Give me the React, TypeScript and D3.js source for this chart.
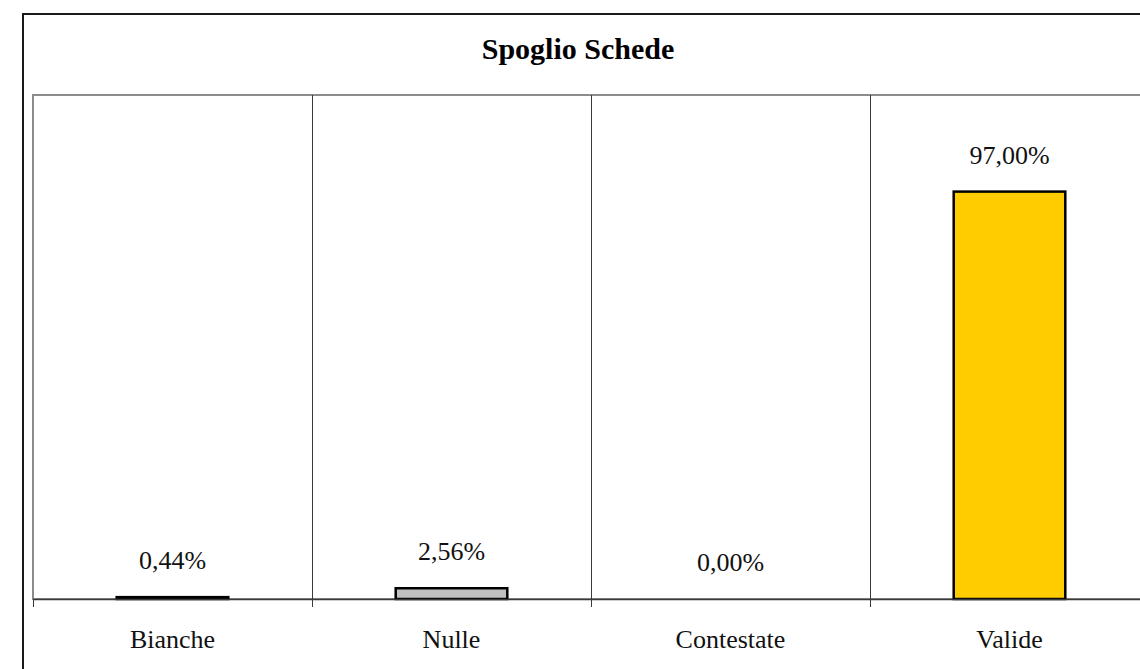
import React, { useEffect, useRef } from "react";
import * as d3 from "d3";

const categories = ["Bianche", "Nulle", "Contestate", "Valide"];
const values = [0.44, 2.56, 0.0, 97.0];
const barColors = ["#000000", "#C0C0C0", "#FFFFFF", "#FFCC00"];
const valueLabels = ["0,44%", "2,56%", "0,00%", "97,00%"];
const yDomain = [0, 120];

const FONT = "'Liberation Serif', 'Times New Roman', serif";

const App = () => {
  const ref = useRef<SVGSVGElement>(null);

  useEffect(() => {
    const width = 1140;
    const height = 669;
    const svg = d3.select(ref.current);
    svg.selectAll("*").remove();

    // plot box
    const left = 33;
    const top = 95;
    const bottom = 599;
    const step = 279;
    const right = left + step * categories.length;

    // outer chart border (runs past the page edges)
    svg
      .append("rect")
      .attr("x", 23)
      .attr("y", 14)
      .attr("width", 1300)
      .attr("height", 800)
      .style("fill", "#fff")
      .style("stroke", "#1a1a1a")
      .style("stroke-width", 2);

    svg
      .append("text")
      .attr("x", 578)
      .attr("y", 59)
      .attr("text-anchor", "middle")
      .style("font-family", FONT)
      .style("font-weight", "bold")
      .style("font-size", "30px")
      .style("fill", "#000")
      .text("Spoglio Schede");

    const x = d3
      .scaleBand<string>()
      .domain(categories)
      .range([left, right])
      .paddingInner(0.6)
      .paddingOuter(0.3);

    const y = d3.scaleLinear().domain(yDomain).range([bottom, top]);

    // plot area border
    svg
      .append("rect")
      .attr("x", left)
      .attr("y", top)
      .attr("width", right - left)
      .attr("height", bottom - top)
      .style("fill", "none")
      .style("stroke", "#8c8c8c")
      .style("stroke-width", 2);

    // vertical gridlines at category boundaries, with ticks below axis
    d3.range(categories.length + 1).forEach((i) => {
      const gx = left + i * step;
      svg
        .append("line")
        .attr("x1", gx + 0.5)
        .attr("x2", gx + 0.5)
        .attr("y1", i === 0 ? bottom : top)
        .attr("y2", bottom + 8)
        .style("stroke", "#3a3a3a")
        .style("stroke-width", 1);
    });

    // bars
    categories.forEach((c, i) => {
      if (values[i] <= 0) return;
      const yTop = y(values[i]);
      svg
        .append("rect")
        .attr("x", x(c)!)
        .attr("y", yTop)
        .attr("width", x.bandwidth())
        .attr("height", bottom - yTop)
        .style("fill", barColors[i])
        .style("stroke", "#000")
        .style("stroke-width", 2.5);
    });

    // x axis line
    svg
      .append("line")
      .attr("x1", left)
      .attr("x2", right)
      .attr("y1", bottom + 0.5)
      .attr("y2", bottom + 0.5)
      .style("stroke", "#3a3a3a")
      .style("stroke-width", 1.5);

    // value labels
    categories.forEach((c, i) => {
      svg
        .append("text")
        .attr("x", x(c)! + x.bandwidth() / 2)
        .attr("y", y(values[i]) - 28)
        .attr("text-anchor", "middle")
        .style("font-family", FONT)
        .style("font-size", "26px")
        .style("fill", "#111")
        .text(valueLabels[i]);
    });

    // category labels
    categories.forEach((c) => {
      svg
        .append("text")
        .attr("x", x(c)! + x.bandwidth() / 2)
        .attr("y", 648)
        .attr("text-anchor", "middle")
        .style("font-family", FONT)
        .style("font-size", "26px")
        .style("fill", "#111")
        .text(c);
    });

    svg.attr("width", width).attr("height", height);
  }, []);

  return (
    <svg
      ref={ref}
      width={1140}
      height={669}
      style={{ position: "absolute", left: 0, top: 0, background: "#fff" }}
    />
  );
};

export default App;
